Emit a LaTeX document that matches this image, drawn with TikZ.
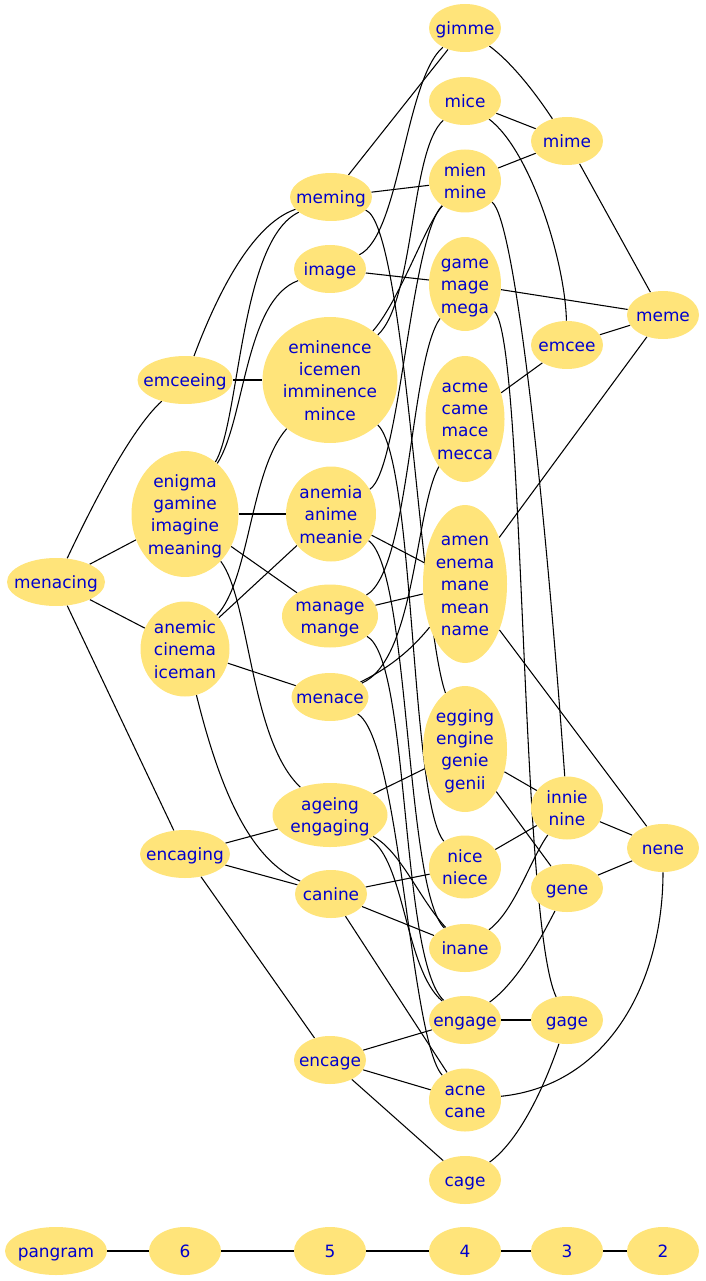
\documentclass[tikz,border=0pt]{standalone}
\usepackage{fontspec}
\setmainfont{DejaVu Sans}
\usetikzlibrary{shapes.geometric}
\pgfdeclarelayer{bg}
\pgfsetlayers{bg,main}
\definecolor{nfill}{HTML}{FFE47A}
\definecolor{ntext}{HTML}{0000CD}
\newcommand\lblstrut{\rule[-3.5bp]{0pt}{17bp}}
\begin{document}
\begin{tikzpicture}[x=0.75bp,y=-0.75bp,
  wn/.style={ellipse, fill=nfill, draw=none, inner sep=0pt},
  sz/.style 2 args={minimum width=#1*0.75bp, minimum height=#2*0.75bp},
  wt/.style={text=ntext, font=\fontsize{12.7bp}{16.8bp}\selectfont, align=center, inner sep=0pt,
    execute at end node=\lblstrut},
  ed/.style={draw=black, line width=0.8bp}]
\useasboundingbox (0,0) rectangle (705,1281);
\node[wn, sz={72}{48}, label={[wt]center:\lblstrut gimme}] (gimme) at (465,28) {};
\node[wn, sz={72}{48}, label={[wt]center:\lblstrut mice}] (mice) at (465,101) {};
\node[wn, sz={72}{48}, label={[wt]center:\lblstrut mime}] (mime) at (567,141) {};
\node[wn, sz={82}{48}, label={[wt]center:\lblstrut meming}] (meming) at (331,197) {};
\node[wn, sz={72}{63}, label={[wt]center:{\lblstrut mien\\mine}}] (mien) at (465,181) {};
\node[wn, sz={72}{48}, label={[wt]center:\lblstrut image}] (image) at (330,269) {};
\node[wn, sz={72}{94}, label={[wt]center:{\lblstrut game\\mage\\mega}}] (game) at (465,284) {};
\node[wn, sz={72}{48}, label={[wt]center:\lblstrut meme}] (meme) at (663,315) {};
\node[wn, sz={72}{48}, label={[wt]center:\lblstrut emcee}] (emcee) at (567,345) {};
\node[wn, sz={95}{48}, label={[wt]center:\lblstrut emceeing}] (emceeing) at (185,380) {};
\node[wn, sz={135}{126}, label={[wt]center:{\lblstrut eminence\\icemen\\imminence\\mince}}] (eminence) at (330,380) {};
\node[wn, sz={79}{126}, label={[wt]center:{\lblstrut acme\\came\\mace\\mecca}}] (acme) at (465,419) {};
\node[wn, sz={107}{126}, label={[wt]center:{\lblstrut enigma\\gamine\\imagine\\meaning}}] (enigma) at (185,514) {};
\node[wn, sz={90}{95}, label={[wt]center:{\lblstrut anemia\\anime\\meanie}}] (anemia) at (331,514) {};
\node[wn, sz={84}{158}, label={[wt]center:{\lblstrut amen\\enema\\mane\\mean\\name}}] (amen) at (465,584) {};
\node[wn, sz={98}{48}, label={[wt]center:\lblstrut menacing}] (menacing) at (56,582) {};
\node[wn, sz={96}{63}, label={[wt]center:{\lblstrut manage\\mange}}] (manage) at (330,616) {};
\node[wn, sz={89}{95}, label={[wt]center:{\lblstrut anemic\\cinema\\iceman}}] (anemic) at (185,649) {};
\node[wn, sz={77}{48}, label={[wt]center:\lblstrut menace}] (menace) at (330,697) {};
\node[wn, sz={84}{126}, label={[wt]center:{\lblstrut egging\\engine\\genie\\genii}}] (egging) at (465,749) {};
\node[wn, sz={115}{64}, label={[wt]center:{\lblstrut ageing\\engaging}}] (ageing) at (330,815) {};
\node[wn, sz={72}{63}, label={[wt]center:{\lblstrut innie\\nine}}] (innie) at (567,808) {};
\node[wn, sz={72}{48}, label={[wt]center:\lblstrut nene}] (nene) at (663,848) {};
\node[wn, sz={90}{48}, label={[wt]center:\lblstrut encaging}] (encaging) at (185,854) {};
\node[wn, sz={72}{63}, label={[wt]center:{\lblstrut nice\\niece}}] (nice) at (465,867) {};
\node[wn, sz={72}{48}, label={[wt]center:\lblstrut canine}] (canine) at (331,894) {};
\node[wn, sz={72}{48}, label={[wt]center:\lblstrut gene}] (gene) at (567,888) {};
\node[wn, sz={72}{48}, label={[wt]center:\lblstrut inane}] (inane) at (465,948) {};
\node[wn, sz={72}{48}, label={[wt]center:\lblstrut engage}] (engage) at (465,1020) {};
\node[wn, sz={72}{48}, label={[wt]center:\lblstrut gage}] (gage) at (567,1020) {};
\node[wn, sz={72}{48}, label={[wt]center:\lblstrut encage}] (encage) at (330,1060) {};
\node[wn, sz={72}{63}, label={[wt]center:{\lblstrut acne\\cane}}] (acne) at (465,1100) {};
\node[wn, sz={72}{48}, label={[wt]center:\lblstrut cage}] (cage) at (465,1180) {};
\node[wn, sz={102}{48}, label={[wt]center:\lblstrut pangram}] (pangram) at (56,1251) {};
\node[wn, sz={72}{48}, label={[wt]center:\lblstrut 6}] (n6) at (185,1251) {};
\node[wn, sz={72}{48}, label={[wt]center:\lblstrut 5}] (n5) at (330,1251) {};
\node[wn, sz={72}{48}, label={[wt]center:\lblstrut 4}] (n4) at (465,1251) {};
\node[wn, sz={72}{48}, label={[wt]center:\lblstrut 3}] (n3) at (567,1251) {};
\node[wn, sz={72}{48}, label={[wt]center:\lblstrut 2}] (n2) at (663,1251) {};

\begin{pgfonlayer}{bg}
\draw[ed] (menacing) .. controls (90,510) and (130,430) .. (emceeing);
\draw[ed] (menacing) -- (enigma);
\draw[ed] (menacing) -- (anemic);
\draw[ed] (menacing) -- (encaging);
\draw[ed] (emceeing) .. controls (215,300) and (250,225) .. (meming);
\draw[ed] (emceeing) -- (eminence);
\draw[ed] (enigma) .. controls (240,420) and (240,240) .. (meming);
\draw[ed] (enigma) .. controls (245,420) and (245,300) .. (image);
\draw[ed] (enigma) -- (anemia);
\draw[ed] (enigma) -- (manage);
\draw[ed] (enigma) .. controls (250,600) and (250,740) .. (ageing);
\draw[ed] (anemic) .. controls (250,580) and (250,470) .. (eminence);
\draw[ed] (anemic) -- (anemia);
\draw[ed] (anemic) -- (menace);
\draw[ed] (anemic) .. controls (220,790) and (250,860) .. (canine);
\draw[ed] (encaging) -- (ageing);
\draw[ed] (encaging) -- (canine);
\draw[ed] (encaging) -- (encage);
\draw[ed] (meming) -- (gimme);
\draw[ed] (meming) -- (mien);
\draw[ed] (meming) .. controls (405,225) and (420,620) .. (egging);
\draw[ed] (image) .. controls (400,235) and (405,80) .. (gimme);
\draw[ed] (image) -- (game);
\draw[ed] (eminence) .. controls (415,300) and (410,150) .. (mice);
\draw[ed] (eminence) .. controls (400,300) and (425,225) .. (mien);
\draw[ed] (eminence) .. controls (415,460) and (410,800) .. (nice);
\draw[ed] (anemia) .. controls (400,470) and (410,240) .. (mien);
\draw[ed] (anemia) -- (amen);
\draw[ed] (anemia) .. controls (410,570) and (405,890) .. (inane);
\draw[ed] (manage) .. controls (410,570) and (410,360) .. (game);
\draw[ed] (manage) -- (amen);
\draw[ed] (manage) .. controls (410,660) and (400,960) .. (engage);
\draw[ed] (menace) .. controls (415,660) and (415,510) .. (acme);
\draw[ed] (menace) .. controls (395,665) and (415,645) .. (amen);
\draw[ed] (menace) .. controls (400,740) and (410,1040) .. (acne);
\draw[ed] (ageing) -- (egging);
\draw[ed] (ageing) .. controls (400,850) and (420,900) .. (inane);
\draw[ed] (ageing) .. controls (405,860) and (405,970) .. (engage);
\draw[ed] (canine) -- (nice);
\draw[ed] (canine) -- (inane);
\draw[ed] (canine) -- (acne);
\draw[ed] (encage) -- (engage);
\draw[ed] (encage) -- (acne);
\draw[ed] (encage) -- (cage);
\draw[ed] (gimme) .. controls (515,65) and (540,100) .. (mime);
\draw[ed] (mice) -- (mime);
\draw[ed] (mice) .. controls (530,150) and (565,260) .. (emcee);
\draw[ed] (mien) -- (mime);
\draw[ed] (mien) .. controls (515,220) and (545,500) .. (innie);
\draw[ed] (game) .. controls (525,340) and (520,920) .. (gage);
\draw[ed] (game) -- (meme);
\draw[ed] (acme) -- (emcee);
\draw[ed] (amen) -- (meme);
\draw[ed] (amen) -- (nene);
\draw[ed] (egging) -- (innie);
\draw[ed] (egging) -- (gene);
\draw[ed] (nice) -- (innie);
\draw[ed] (inane) .. controls (515,910) and (530,860) .. (innie);
\draw[ed] (engage) .. controls (520,980) and (545,930) .. (gene);
\draw[ed] (engage) -- (gage);
\draw[ed] (acne) .. controls (610,1085) and (663,980) .. (nene);
\draw[ed] (cage) .. controls (520,1140) and (545,1085) .. (gage);
\draw[ed] (mime) -- (meme);
\draw[ed] (emcee) -- (meme);
\draw[ed] (innie) -- (nene);
\draw[ed] (gene) -- (nene);
\draw[ed] (pangram) -- (n6) -- (n5) -- (n4) -- (n3) -- (n2);
\end{pgfonlayer}
\end{tikzpicture}
\end{document}
